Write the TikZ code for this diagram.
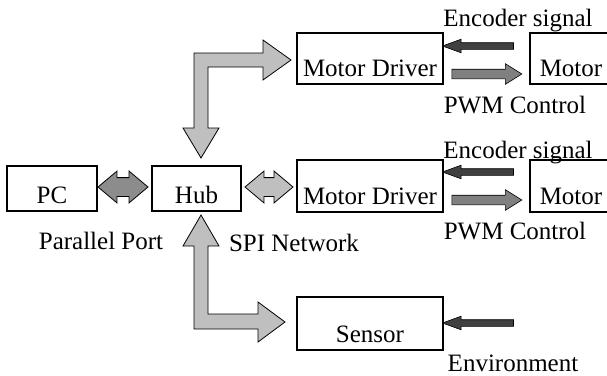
\documentclass[tikz,border=0pt]{standalone}
\usepackage{fontspec}
\setmainfont{Liberation Serif}
\usetikzlibrary{shapes.arrows}

\begin{document}
\begin{tikzpicture}[x=1pt,y=-1pt,
   font=\fontsize{25}{30}\selectfont,
   box/.style={draw,line width=1.4pt,inner sep=0pt,text depth=8pt},
   lbl/.style={anchor=base,inner sep=0pt},
   bus/.style={draw,line width=0.8pt,fill=black!25},
   enc/.style={single arrow,draw,line width=0.6pt,fill=black!75,inner sep=3pt,
      minimum height=71pt,minimum width=13pt,single arrow head extend=3.5pt,
      single arrow tip angle=40,shape border rotate=180},
   pwm/.style={single arrow,draw,line width=0.6pt,fill=black!50,inner sep=4.5pt,
      minimum height=70pt,minimum width=20pt,single arrow head extend=5.5pt,
      single arrow tip angle=64},
   link/.style={double arrow,draw,line width=0.8pt,inner sep=9pt,minimum width=31pt,
      double arrow head extend=6.5pt,double arrow tip angle=80}]
   \useasboundingbox (0,0) rectangle (607,375);

   \node[box,minimum width=90pt,text height=37pt] (pc) at (52,188.5) {PC};
   \node[box,minimum width=89pt,text height=37pt] (hub) at (196.5,188.5) {Hub};
   \node[box,minimum width=146pt,text height=43pt] (mdA) at (370,58.5) {Motor Driver};
   \node[box,minimum width=82pt,text height=43pt] (motorA) at (571,58.5) {Motor};
   \node[box,minimum width=146pt,text height=44pt] (mdB) at (370,186) {Motor Driver};
   \node[box,minimum width=82pt,text height=44pt] (motorB) at (571,186) {Motor};
   \node[box,minimum width=146pt,text height=45pt] (sensor) at (370,323.5) {Sensor};

   \node[link,fill=black!45,minimum height=50pt] (pchub) at (123,187) {};
   \node[link,fill=black!25,minimum height=48pt] (hubmd) at (269,187) {};

   \node[enc] (encA) at (482.5,46) {};
   \node[pwm] (pwmA) at (483,74) {};
   \node[enc] (encB) at (482.5,172) {};
   \node[pwm] (pwmB) at (483,200) {};
   \node[enc] (env) at (482.5,323) {};

   \draw[bus] (201,158) -- (219,128) -- (208,128) -- (208,67) -- (263,67) -- (263,80)
      -- (291,60) -- (263,40) -- (263,53) -- (194,53) -- (194,128) -- (183,128) -- cycle;
   \draw[bus] (201,215) -- (219,246) -- (208,246) -- (208,314) -- (258,314) -- (258,302)
      -- (285,322) -- (258,342) -- (258,329) -- (194,329) -- (194,246) -- (183,246) -- cycle;

   \node[lbl] (encAlbl) at (518,26) {Encoder signal};
   \node[lbl] (pwmAlbl) at (515,113) {PWM Control};
   \node[lbl] (encBlbl) at (518,158) {Encoder signal};
   \node[lbl] (pwmBlbl) at (515,239) {PWM Control};
   \node[lbl] (pplbl) at (101,249) {Parallel Port};
   \node[lbl] (spilbl) at (294,251) {SPI Network};
   \node[lbl] (envlbl) at (513,371) {Environment};
\end{tikzpicture}
\end{document}
